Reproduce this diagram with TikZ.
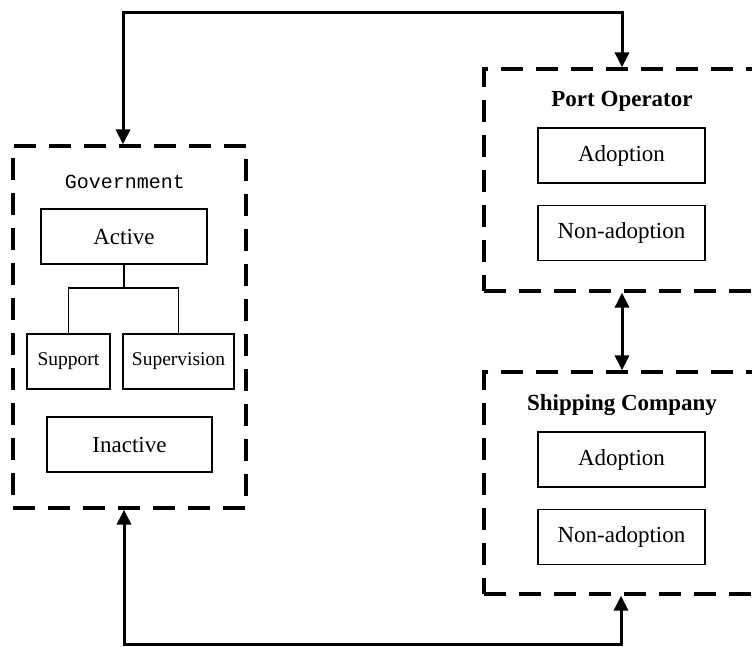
\documentclass[tikz,border=0pt]{standalone}
\usepackage{fontspec}
\setmainfont{Liberation Serif}
\newfontfamily\govfont{Liberation Mono}
\usetikzlibrary{arrows.meta}
\begin{document}
\begin{tikzpicture}[x=1pt,y=-1pt,
  container/.style={draw,line width=3.2pt,dash pattern=on 22pt off 13pt,inner sep=0pt},
  item/.style={draw,line width=1.5pt,inner sep=0pt,font=\fontsize{23}{27}\selectfont},
  subitem/.style={draw,line width=1.5pt,inner sep=0pt,font=\fontsize{19.5}{22}\selectfont},
  grouptitle/.style={font=\bfseries\fontsize{23}{27}\selectfont},
  govtitle/.style={font=\govfont\fontsize{20}{22}\selectfont},
  link/.style={line width=3pt,line join=miter,{Triangle[length=15pt,width=14pt]}-{Triangle[length=15pt,width=14pt]}},
  tree/.style={line width=1.5pt}]
\useasboundingbox (0,0) rectangle (752,646);
\clip (0,0) rectangle (752,646);

% Government
\node[container,minimum width=233pt,minimum height=362pt] (gov) at (129.5,327) {};
\node[govtitle] (govt) at (125,182) {Government};
\node[item,minimum width=166pt,minimum height=55pt] (active) at (124,236.5) {Active};
\node[subitem,minimum width=83pt,minimum height=55pt] (support) at (68.5,361.5) {Support};
\node[subitem,minimum width=111pt,minimum height=55pt] (superv) at (178.5,361.5) {Supervision};
\node[item,minimum width=165pt,minimum height=55pt] (inactive) at (129.5,444.5) {Inactive};
\coordinate (j) at (124,288);
\draw[tree] (active.south) -- (j);
\draw[tree] (support.north) |- (j) -| (superv.north);

% Port Operator
\node[container,minimum width=276pt,minimum height=222pt] (port) at (622,180) {};
\node[grouptitle] (portt) at (622,101) {Port Operator};
\node[item,minimum width=167pt,minimum height=55pt] (padopt) at (621.5,155.5) {Adoption};
\node[item,minimum width=167pt,minimum height=55pt] (pnon) at (621.5,233) {Non-adoption};

% Shipping Company
\node[container,minimum width=276pt,minimum height=222pt] (ship) at (622,483) {};
\node[grouptitle] (shipt) at (622,405) {Shipping Company};
\node[item,minimum width=167pt,minimum height=55pt] (sadopt) at (621.5,459.5) {Adoption};
\node[item,minimum width=167pt,minimum height=55pt] (snon) at (621.5,537) {Non-adoption};

% connectors
\coordinate (tl) at (123,12);
\coordinate (tr) at (622,12);
\coordinate (bl) at (124,644);
\coordinate (br) at (621,644);
\draw[link] (tl |- gov.north) -- (tl) -- (tr) -- (tr |- port.north);
\draw[link] (bl |- gov.south) -- (bl) -- (br) -- (br |- ship.south);
\draw[link] (port.south -| tr) -- (ship.north -| tr);
\end{tikzpicture}
\end{document}
